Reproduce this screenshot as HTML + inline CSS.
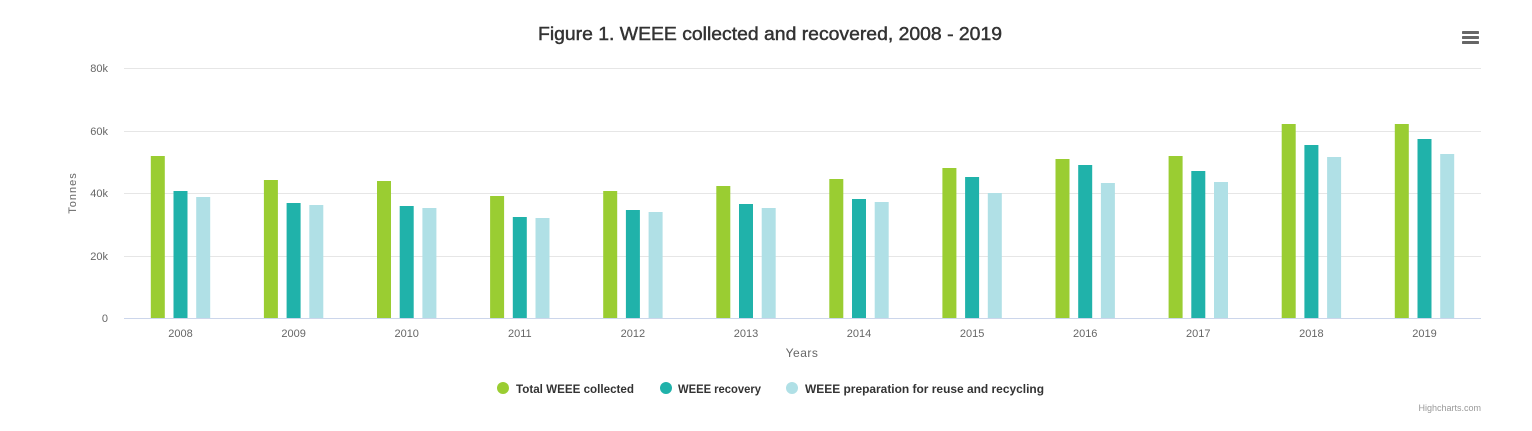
<!DOCTYPE html>
<html>
<head>
<meta charset="utf-8">
<style>
html,body{margin:0;padding:0;background:#fff;}
svg{display:block;}
text{font-family:"Liberation Sans",sans-serif;}
</style>
</head>
<body>
<svg width="1532" height="431" viewBox="0 0 1532 431" xmlns="http://www.w3.org/2000/svg">
<rect width="1532" height="431" fill="#fff"/>
<!-- title -->
<text x="770" y="40" text-anchor="middle" font-size="18" fill="#333" stroke="#333" stroke-width="0.45" textLength="464" lengthAdjust="spacingAndGlyphs">Figure 1. WEEE collected and recovered, 2008 - 2019</text>
<!-- menu icon -->
<g fill="#666">
<rect x="1462" y="31" width="17" height="3" rx="0.8"/>
<rect x="1462" y="36" width="17" height="3" rx="0.8"/>
<rect x="1462" y="41" width="17" height="3" rx="0.8"/>
</g>
<!-- grid -->
<g stroke="#e6e6e6" stroke-width="1">
<line x1="124" y1="68.5" x2="1481" y2="68.5"/>
<line x1="124" y1="131.5" x2="1481" y2="131.5"/>
<line x1="124" y1="193.5" x2="1481" y2="193.5"/>
<line x1="124" y1="256.5" x2="1481" y2="256.5"/>
</g>
<!-- y labels -->
<g font-size="11" fill="#666" text-anchor="end">
<text x="108" y="72">80k</text>
<text x="108" y="135">60k</text>
<text x="108" y="197">40k</text>
<text x="108" y="260">20k</text>
<text x="108" y="322">0</text>
</g>
<text x="76" y="193" font-size="11" fill="#666" text-anchor="middle" transform="rotate(-90 76 193)" letter-spacing="1">Tonnes</text>
<!-- bars -->
<g>
<g fill="#9acd32">
<rect x="150.8" y="156" width="14" height="162"/>
<rect x="263.9" y="180" width="14" height="138"/>
<rect x="377.0" y="181" width="14" height="137"/>
<rect x="490.1" y="196" width="14" height="122"/>
<rect x="603.2" y="191" width="14" height="127"/>
<rect x="716.3" y="186" width="14" height="132"/>
<rect x="829.3" y="179" width="14" height="139"/>
<rect x="942.4" y="168" width="14" height="150"/>
<rect x="1055.5" y="159" width="14" height="159"/>
<rect x="1168.6" y="156" width="14" height="162"/>
<rect x="1281.7" y="124" width="14" height="194"/>
<rect x="1394.8" y="124" width="14" height="194"/>
</g>
<g fill="#20b2aa">
<rect x="173.5" y="191" width="14" height="127"/>
<rect x="286.6" y="203" width="14" height="115"/>
<rect x="399.7" y="206" width="14" height="112"/>
<rect x="512.8" y="217" width="14" height="101"/>
<rect x="625.9" y="210" width="14" height="108"/>
<rect x="739.0" y="204" width="14" height="114"/>
<rect x="852.0" y="199" width="14" height="119"/>
<rect x="965.1" y="177" width="14" height="141"/>
<rect x="1078.2" y="165" width="14" height="153"/>
<rect x="1191.3" y="171" width="14" height="147"/>
<rect x="1304.4" y="145" width="14" height="173"/>
<rect x="1417.5" y="139" width="14" height="179"/>
</g>
<g fill="#b0e0e6">
<rect x="196.2" y="197" width="14" height="121"/>
<rect x="309.3" y="205" width="14" height="113"/>
<rect x="422.4" y="208" width="14" height="110"/>
<rect x="535.5" y="218" width="14" height="100"/>
<rect x="648.6" y="212" width="14" height="106"/>
<rect x="761.7" y="208" width="14" height="110"/>
<rect x="874.7" y="202" width="14" height="116"/>
<rect x="987.8" y="193" width="14" height="125"/>
<rect x="1100.9" y="183" width="14" height="135"/>
<rect x="1214.0" y="182" width="14" height="136"/>
<rect x="1327.1" y="157" width="14" height="161"/>
<rect x="1440.2" y="154" width="14" height="164"/>
</g>
</g>
<!-- x axis -->
<line x1="124" y1="318.5" x2="1481" y2="318.5" stroke="#ccd6eb" stroke-width="1"/>
<g font-size="11" fill="#666" text-anchor="middle">
<text x="180.5" y="337">2008</text>
<text x="293.6" y="337">2009</text>
<text x="406.7" y="337">2010</text>
<text x="519.8" y="337">2011</text>
<text x="632.9" y="337">2012</text>
<text x="746.0" y="337">2013</text>
<text x="859.0" y="337">2014</text>
<text x="972.1" y="337">2015</text>
<text x="1085.2" y="337">2016</text>
<text x="1198.3" y="337">2017</text>
<text x="1311.4" y="337">2018</text>
<text x="1424.5" y="337">2019</text>
</g>
<text x="802" y="357" font-size="12" fill="#666" text-anchor="middle" letter-spacing="0.5">Years</text>
<!-- legend -->
<circle cx="503" cy="388" r="6" fill="#9acd32"/>
<text x="516" y="393" font-size="12" font-weight="bold" fill="#333" textLength="118" lengthAdjust="spacingAndGlyphs">Total WEEE collected</text>
<circle cx="666" cy="388" r="6" fill="#20b2aa"/>
<text x="678" y="393" font-size="12" font-weight="bold" fill="#333" textLength="83" lengthAdjust="spacingAndGlyphs">WEEE recovery</text>
<circle cx="792" cy="388" r="6" fill="#b0e0e6"/>
<text x="805" y="393" font-size="12" font-weight="bold" fill="#333" textLength="239" lengthAdjust="spacingAndGlyphs">WEEE preparation for reuse and recycling</text>
<!-- credits -->
<text x="1481" y="411" font-size="9" fill="#999" text-anchor="end">Highcharts.com</text>
</svg>
</body>
</html>
